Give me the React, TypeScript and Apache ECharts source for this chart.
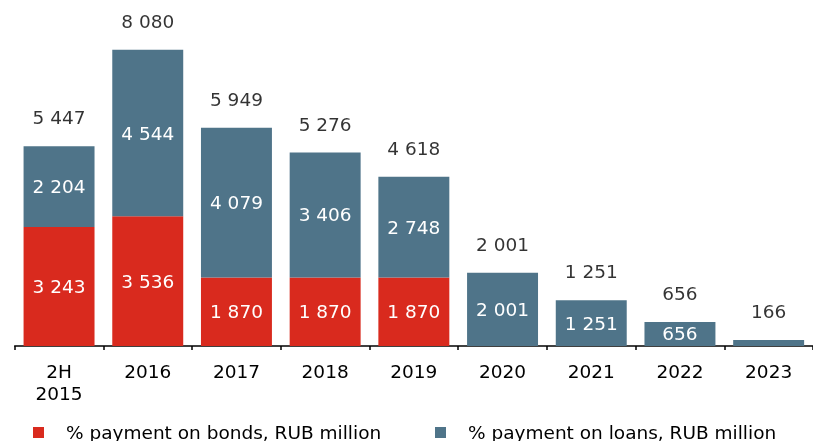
import React, { useEffect, useRef } from "react";
import * as echarts from "echarts";

const categories = ["2H\n2015", "2016", "2017", "2018", "2019", "2020", "2021", "2022", "2023"];
const bonds = [3243, 3536, 1870, 1870, 1870, 0, 0, 0, 0];
const loans = [2204, 4544, 4079, 3406, 2748, 2001, 1251, 656, 166];
const totals = [5447, 8080, 5949, 5276, 4618, 2001, 1251, 656, 166];
const hiddenInsideLabels = ["2023"];

const fmt = (v: number) => String(v).replace(/\B(?=(\d{3})+(?!\d))/g, " ");

export default function App() {
  const ref = useRef<HTMLDivElement>(null);
  useEffect(() => {
    if (!ref.current) return;
    const chart = echarts.init(ref.current, undefined, { renderer: "svg" });
    const font = "'DejaVu Sans', Verdana, sans-serif";
    const fs = 18.5;
    const insideLabel = {
      show: true,
      position: "inside",
      color: "#ffffff",
      fontSize: fs,
      fontFamily: font,
      formatter: (p: any) => (p.value ? fmt(p.value) : ""),
    };
    const legendText = { color: "#000", fontSize: fs, fontFamily: font, padding: [0, 0, 0, 17] };
    chart.setOption({
      animation: false,
      grid: { left: 14.7, right: -5.4, top: 16, bottom: 95 },
      xAxis: {
        type: "category",
        data: categories,
        axisLine: { lineStyle: { color: "#000", width: 1.5 } },
        axisTick: { show: true, alignWithLabel: false, length: 4, lineStyle: { color: "#000", width: 1.5 } },
        axisLabel: { color: "#000", fontSize: fs, fontFamily: font, margin: 14, lineHeight: 22, interval: 0 },
      },
      yAxis: { type: "value", min: 0, max: 9000, show: false, splitLine: { show: false } },
      legend: [
        {
          left: 28,
          top: 418,
          data: ["% payment on bonds, RUB million"],
          itemWidth: 11,
          itemHeight: 11,
          icon: "rect",
          textStyle: legendText,
        },
        {
          left: 430,
          top: 418,
          data: ["% payment on loans, RUB million"],
          itemWidth: 11,
          itemHeight: 11,
          icon: "rect",
          textStyle: legendText,
        },
      ],
      series: [
        {
          name: "% payment on bonds, RUB million",
          type: "bar",
          stack: "total",
          barWidth: "80%",
          itemStyle: { color: "#D92A1E" },
          label: insideLabel,
          data: bonds,
        },
        {
          name: "% payment on loans, RUB million",
          type: "bar",
          stack: "total",
          barWidth: "80%",
          itemStyle: { color: "#4F7489" },
          label: insideLabel,
          data: loans.map((v, i) =>
            hiddenInsideLabels.includes(categories[i]) ? { value: v, label: { show: false } } : v
          ),
        },
        {
          name: "total",
          type: "scatter",
          symbolSize: 0,
          silent: true,
          label: {
            show: true,
            position: "top",
            distance: 19,
            color: "#000",
            fontSize: fs,
            fontFamily: font,
            formatter: (p: any) => fmt(p.value),
          },
          data: totals,
        },
      ],
    });
    return () => chart.dispose();
  }, []);
  return <div ref={ref} style={{ position: "fixed", left: 0, top: 0, width: 813, height: 441 }} />;
}
